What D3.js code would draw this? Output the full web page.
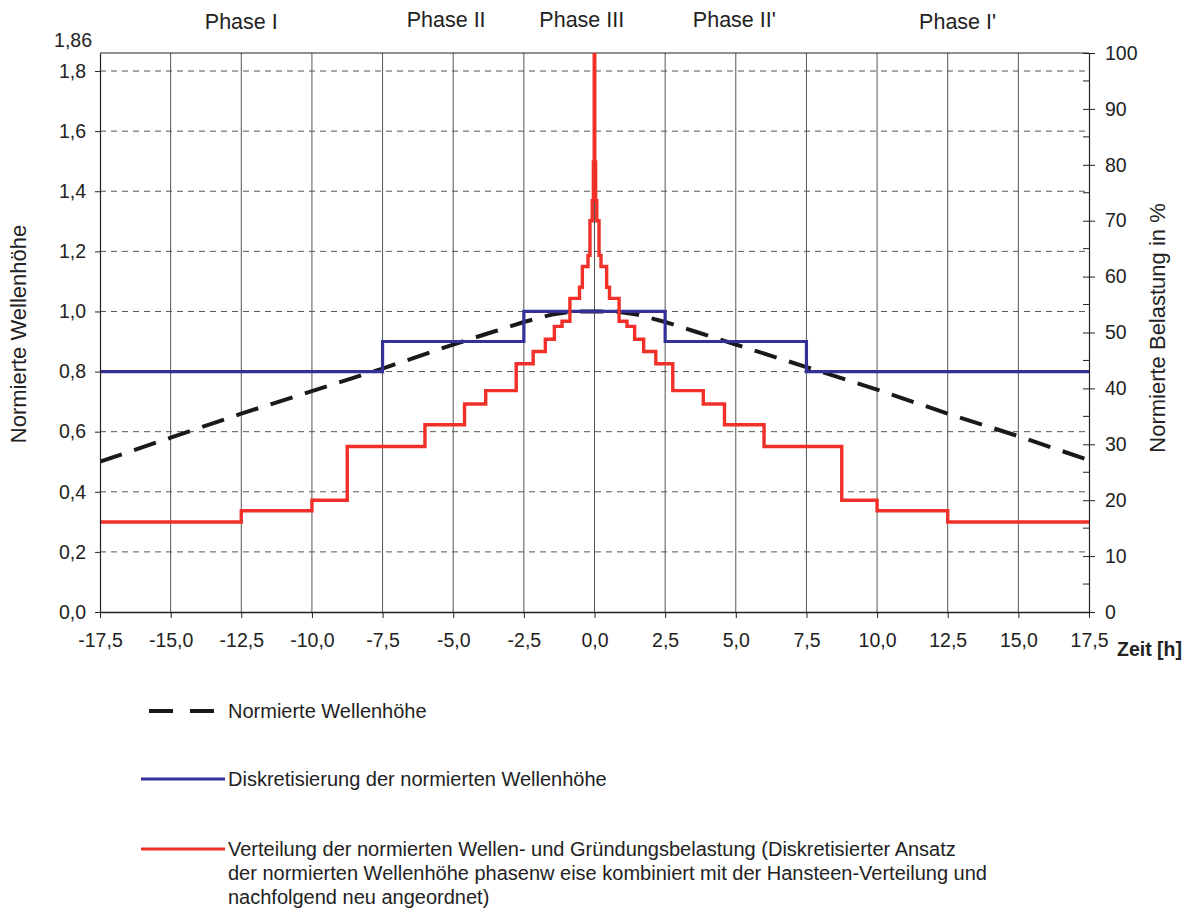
<!DOCTYPE html>
<html><head><meta charset="utf-8">
<script src="https://cdn.jsdelivr.net/npm/d3@7"></script>
<style>
html,body{margin:0;padding:0;background:#fff;}
svg{display:block;font-family:"Liberation Sans",Arial,sans-serif;}
</style></head>
<body>
<svg id="chart" width="1193" height="911"></svg>
<script>
// ---------- data ----------
const xTicks = [-17.5,-15,-12.5,-10,-7.5,-5,-2.5,0,2.5,5,7.5,10,12.5,15,17.5];
const yLeftTicks = [0,0.2,0.4,0.6,0.8,1.0,1.2,1.4,1.6,1.8];
const yLeftTopLabel = "1,86";
const yRightTicks = [0,10,20,30,40,50,60,70,80,90,100];
const yRightMinor = [5,15,25,35,45,55,65,75,85,95];

const phaseNames = ["Phase I","Phase II","Phase III","Phase II'","Phase I'"];
const phaseCenters = [-12.5,-5.25,-0.45,4.95,12.85];

// Normierte Wellenhöhe (dashed)
const waveT = [-17.5,-15,-12.5,-10,-7.5,-5,-3.5,-2.5,-1.5,-0.75,0,0.75,1.5,2.5,3.5,5,7.5,10,12.5,15,17.5];
const waveH = [0.50,0.58,0.66,0.735,0.81,0.89,0.935,0.965,0.99,1.0,1.0,1.0,0.99,0.965,0.935,0.89,0.815,0.74,0.66,0.585,0.505];

// Diskretisierung (blue steps)
const discEdges = [-17.5,-7.5,-2.5,2.5,7.5,17.5];
const discValues = [0.8,0.9,1.0,0.9,0.8];

// Verteilung der Belastung in % (red steps)
const loadEdges = [-17.5,-12.5,-10,-8.75,-6,-4.6,-3.85,-2.77,-2.17,-1.74,-1.42,-1.15,-0.87,-0.53,-0.43,-0.23,-0.16,-0.08,-0.04,-0.01,
                   0.01,0.04,0.08,0.16,0.23,0.43,0.53,0.87,1.15,1.42,1.74,2.17,2.77,3.85,4.6,6,8.75,10,12.5,17.5];
const loadValues = [16.1,18.1,20.0,29.6,33.5,37.2,39.6,44.4,46.6,48.8,51.1,52.0,56.1,58.1,61.8,63.8,70.0,73.6,80.5,
                    150,
                    80.5,73.6,70.0,63.8,61.8,58.1,56.1,52.0,51.1,48.8,46.6,44.4,39.6,37.2,33.5,29.6,20.0,18.1,16.1];

const legendItems = [
  {type:"wave", lines:["Normierte Wellenhöhe"]},
  {type:"disc", lines:["Diskretisierung der normierten Wellenhöhe"]},
  {type:"load", lines:["Verteilung der normierten Wellen- und Gründungsbelastung (Diskretisierter Ansatz",
                       "der normierten Wellenhöhe phasenw eise kombiniert mit der Hansteen-Verteilung und",
                       "nachfolgend neu angeordnet)"]}
];

// ---------- layout ----------
const L=100, R=1089, T=53, B=612;
const textColor="#222";
const tickFont=19.5;
const svg = d3.select("#chart");
const x = d3.scaleLinear().domain([-17.5,17.5]).range([L,R]);
const yL = d3.scaleLinear().domain([0,1.86]).range([B,T]);
const yR = d3.scaleLinear().domain([0,100]).range([B,T]);
const fmt = v => d3.format(".1f")(v).replace(".",",").replace("−","-");

svg.append("defs").append("clipPath").attr("id","plotclip")
  .append("rect").attr("x",L).attr("y",T).attr("width",R-L).attr("height",B-T);

// grid
const g = svg.append("g");
g.selectAll(".vg").data(xTicks.slice(1,-1)).join("line")
  .attr("x1",d=>x(d)).attr("x2",d=>x(d)).attr("y1",T).attr("y2",B)
  .attr("stroke","#555").attr("stroke-width",1);
g.selectAll(".hg").data(yLeftTicks.slice(1)).join("line")
  .attr("x1",L).attr("x2",R).attr("y1",d=>yL(d)).attr("y2",d=>yL(d))
  .attr("stroke","#555").attr("stroke-width",1).attr("stroke-dasharray","6,5");

// frame top
svg.append("line").attr("x1",L).attr("x2",R).attr("y1",T).attr("y2",T).attr("stroke","#222").attr("stroke-width",1.2);

// series
const plot = svg.append("g").attr("clip-path","url(#plotclip)");
const waveLine = d3.line().x((d,i)=>x(waveT[i])).y(d=>yL(d));
plot.append("path").attr("d",waveLine(waveH))
  .attr("fill","none").attr("stroke","#1a1a1a").attr("stroke-width",4).attr("stroke-dasharray","23,13");

const stepLine = (edges, vals, ys) => {
  const pts = vals.map((v,i)=>[x(edges[i]), ys(v)]);
  pts.push([x(edges[edges.length-1]), ys(vals[vals.length-1])]);
  return d3.line().curve(d3.curveStepAfter)(pts);
};
plot.append("path").attr("d",stepLine(discEdges,discValues,yL))
  .attr("fill","none").attr("stroke","#33309a").attr("stroke-width",3.2);
plot.append("path").attr("d",stepLine(loadEdges,loadValues,yR))
  .attr("fill","none").attr("stroke","#f2302a").attr("stroke-width",3.4);

// axes
const axX = d3.axisBottom(x).tickValues(xTicks).tickSize(0).tickFormat(fmt);
const gx = svg.append("g").attr("transform",`translate(0,${B})`).call(axX);
gx.select(".domain").attr("stroke","#222").attr("stroke-width",1.4);
gx.selectAll(".tick text").attr("y",21).attr("font-size",tickFont).attr("fill",textColor).attr("font-family","Liberation Sans, Arial, sans-serif");
gx.selectAll(".tick").append("line").attr("y1",0).attr("y2",6).attr("stroke","#222");

const axL = d3.axisLeft(yL).tickValues(yLeftTicks).tickSize(0).tickFormat(fmt);
const gl = svg.append("g").attr("transform",`translate(${L},0)`).call(axL);
gl.select(".domain").attr("stroke","#222").attr("stroke-width",1.2);
gl.selectAll(".tick text").attr("x",-14).attr("font-size",tickFont).attr("fill",textColor).attr("font-family","Liberation Sans, Arial, sans-serif");
gl.selectAll(".tick").append("line").attr("x1",-5).attr("x2",0).attr("stroke","#222");
svg.append("text").attr("x",L-8).attr("y",47).attr("text-anchor","end")
  .attr("font-size",tickFont).attr("fill",textColor).text(yLeftTopLabel);

const axR = d3.axisRight(yR).tickValues(yRightTicks).tickSize(0).tickFormat(d=>d);
const gr = svg.append("g").attr("transform",`translate(${R},0)`).call(axR);
gr.select(".domain").attr("stroke","#222").attr("stroke-width",1.2);
gr.selectAll(".tick text").attr("x",16).attr("font-size",tickFont).attr("fill",textColor).attr("font-family","Liberation Sans, Arial, sans-serif");
gr.selectAll(".tick").append("line").attr("x1",-6).attr("x2",6).attr("stroke","#222");
gr.selectAll(".minor").data(yRightMinor).join("line")
  .attr("x1",-6).attr("x2",0).attr("y1",d=>yR(d)).attr("y2",d=>yR(d)).attr("stroke","#222");

// titles
svg.append("text").attr("transform",`translate(26,334) rotate(-90)`).attr("text-anchor","middle")
  .attr("font-size",22).attr("fill",textColor).text("Normierte Wellenhöhe");
svg.append("text").attr("transform",`translate(1165,328) rotate(-90)`).attr("text-anchor","middle")
  .attr("font-size",22).attr("fill",textColor).text("Normierte Belastung in %");
svg.append("text").attr("x",1117).attr("y",656).attr("font-size",19.5).attr("font-weight","bold")
  .attr("fill",textColor).text("Zeit [h]");

// phase labels
svg.selectAll(".phase").data(phaseNames).join("text")
  .attr("x",(d,i)=>x(phaseCenters[i])).attr("y",(d,i)=>(i===0||i===4)?29:27)
  .attr("text-anchor","middle").attr("font-size",21.5).attr("fill",textColor).text(d=>d);

// legend
const legY = [711,779,849];
const lg = svg.append("g");
legendItems.forEach((item,i)=>{
  const y0 = legY[i];
  if(item.type==="wave"){
    lg.append("line").attr("x1",149).attr("x2",218).attr("y1",y0).attr("y2",y0)
      .attr("stroke","#1a1a1a").attr("stroke-width",4).attr("stroke-dasharray","24,17");
  } else {
    lg.append("line").attr("x1",141).attr("x2",225).attr("y1",y0).attr("y2",y0)
      .attr("stroke", item.type==="disc" ? "#33309a" : "#f2302a").attr("stroke-width",3.2);
  }
  item.lines.forEach((t,j)=>{
    lg.append("text").attr("x",228).attr("y",y0+7+j*24).attr("font-size",20)
      .attr("fill",textColor).text(t);
  });
});
</script>
</body></html>
